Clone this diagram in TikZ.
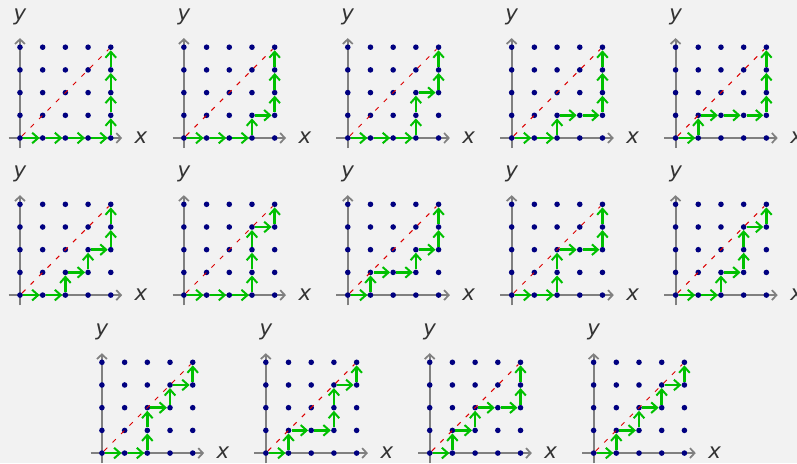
\documentclass[tikz,border=0pt]{standalone}
\usepackage{fontspec}
\newfontfamily\labelfont{DejaVu Sans}
\usepackage{xcolor}
\usetikzlibrary{arrows.meta}

\definecolor{bgray}{RGB}{242,242,242}
\definecolor{axisgray}{RGB}{128,128,128}
\definecolor{dotblue}{RGB}{0,0,128}
\definecolor{pathgreen}{RGB}{0,192,0}
\definecolor{diagred}{RGB}{220,0,0}

% one lattice panel: origin, name, points of the path
\newcommand{\dyckpanel}[4]{%
	\begin{scope}[shift={(#1,#2)},name prefix=#3-]
		% axes
		\draw[axis] (-0.5,0) -- (4.5,0);
		\draw[axis] (0,-0.45) -- (0,4.4);
		\node[axislabel] (xlab) at (5.33,0) {x};
		\node[axislabel] (ylab) at (0,5.33) {y};
		% lattice points
		\foreach \i in {0,...,4}
			\foreach \j in {0,...,4}
				\node[dot] (\i\j) at (\i,\j) {};
		% diagonal
		\draw[diag] (00) -- (44);
		% path
		\foreach \p [remember=\p as \q (initially 00)] in {#4}
			\draw[move] (\q) -- (\p);
	\end{scope}}

\begin{document}
\begin{tikzpicture}[
		x=0.6cm,
		y=0.6cm,
		axis/.style={
			draw=axisgray,
			line width=1.6pt,
			-{Straight Barb[length=3.5pt,width=7.5pt,line width=1.3pt]}
		},
		axislabel/.style={
			inner sep=0pt,
			font=\labelfont\itshape\fontsize{16}{18}\selectfont,
			text=black!80
		},
		dot/.style={
			circle,
			fill=dotblue,
			inner sep=0pt,
			minimum size=4.2pt
		},
		diag/.style={
			draw=diagred,
			line width=0.75pt,
			dash pattern=on 3.5pt off 5.5pt
		},
		move/.style={
			draw=pathgreen,
			line width=1.9pt,
			-{Straight Barb[length=4.5pt,width=8pt,line width=1.5pt]}
		}
		]
		
		% background
		\fill[bgray] (0,0) rectangle (35.11,20.40);
		\useasboundingbox (0,0) rectangle (35.11,20.40);
		
		% first row
		\dyckpanel{0.88}{14.32}{a}{10,20,30,40,41,42,43,44}
		\dyckpanel{8.10}{14.32}{b}{10,20,30,31,41,42,43,44}
		\dyckpanel{15.32}{14.32}{c}{10,20,30,31,32,42,43,44}
		\dyckpanel{22.54}{14.32}{d}{10,20,21,31,41,42,43,44}
		\dyckpanel{29.76}{14.32}{e}{10,11,21,31,41,42,43,44}
		
		% second row
		\dyckpanel{0.88}{7.40}{f}{10,20,21,31,32,42,43,44}
		\dyckpanel{8.10}{7.40}{g}{10,20,30,31,32,33,43,44}
		\dyckpanel{15.32}{7.40}{h}{10,11,21,31,32,42,43,44}
		\dyckpanel{22.54}{7.40}{i}{10,20,21,22,32,42,43,44}
		\dyckpanel{29.76}{7.40}{j}{10,20,21,31,32,33,43,44}
		
		% third row
		\dyckpanel{4.49}{0.44}{k}{10,20,21,22,32,33,43,44}
		\dyckpanel{11.71}{0.44}{l}{10,11,21,31,32,33,43,44}
		\dyckpanel{18.93}{0.44}{m}{10,11,21,22,32,42,43,44}
		\dyckpanel{26.15}{0.44}{n}{10,11,21,22,32,33,43,44}
	\end{tikzpicture}
\end{document}
